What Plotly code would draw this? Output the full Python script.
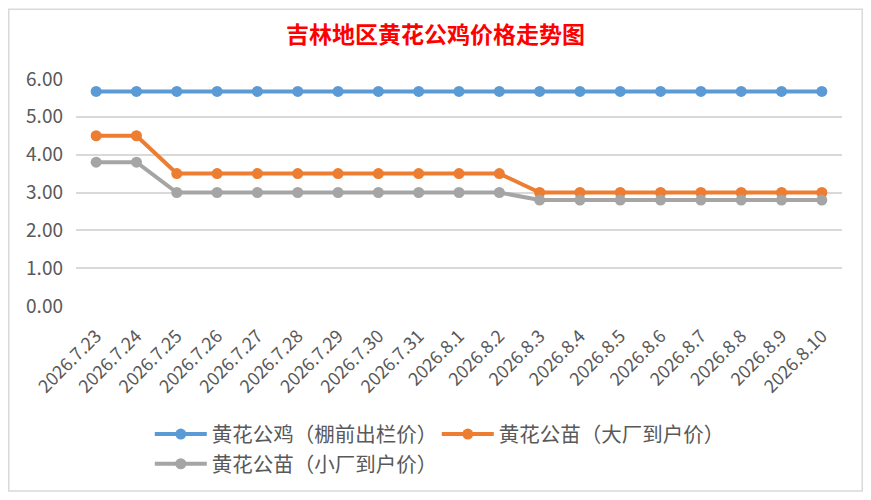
import plotly.graph_objects as go

# 数据
dates = ["2026.7.23", "2026.7.24", "2026.7.25", "2026.7.26", "2026.7.27", "2026.7.28",
         "2026.7.29", "2026.7.30", "2026.7.31", "2026.8.1", "2026.8.2", "2026.8.3",
         "2026.8.4", "2026.8.5", "2026.8.6", "2026.8.7", "2026.8.8", "2026.8.9", "2026.8.10"]
rooster_price = [5.67] * 19          # 黄花公鸡（棚前出栏价）
chick_big = [4.5, 4.5] + [3.5] * 9 + [3.0] * 8     # 黄花公苗（大厂到户价）
chick_small = [3.8, 3.8] + [3.0] * 9 + [2.8] * 8   # 黄花公苗（小厂到户价）
y_ticks = [0, 1, 2, 3, 4, 5, 6]

FONT = "Noto Sans CJK SC"
GRAY_TXT = "#595959"

# 页面 body 默认有 8px 边距，图的尺寸相应缩小
W, H = 855, 484
L, R, T, B = 68, 21, 70.7, 186
PW, PH = W - L - R, H - T - B

series = [
    ("黄花公鸡（棚前出栏价）", rooster_price, "#5B9BD5"),
    ("黄花公苗（大厂到户价）", chick_big, "#ED7D31"),
    ("黄花公苗（小厂到户价）", chick_small, "#A5A5A5"),
]

fig = go.Figure()
for name, vals, color in series:
    fig.add_trace(go.Scatter(
        x=dates, y=vals, name=name, mode="lines+markers",
        line=dict(color=color, width=4),
        marker=dict(color=color, size=11),
    ))

fig.update_layout(
    width=W, height=H,
    margin=dict(l=L, r=R, t=T, b=B, autoexpand=False),
    paper_bgcolor="white", plot_bgcolor="white",
    font=dict(family=FONT, size=19, color=GRAY_TXT),
    title=dict(
        text="<b>吉林地区黄花公鸡价格走势图</b>",
        x=0.5, xanchor="center", y=0.944, yanchor="middle",
        font=dict(family=FONT, size=23, color="#FF0000"),
    ),
    showlegend=True,
    legend=dict(
        orientation="h", x=0.471, xanchor="center", y=-0.477, yanchor="top",
        itemwidth=52, entrywidth=220, entrywidthmode="pixels",
        font=dict(family=FONT, size=20.5, color=GRAY_TXT),
        tracegroupgap=0,
    ),
    # 图表外框
    shapes=[dict(
        type="rect", xref="paper", yref="paper",
        x0=(0.75 - L) / PW, x1=(W - 0.75 - L) / PW,
        y0=-(H - 0.75 - T - PH) / PH, y1=(T + PH - 0.75) / PH,
        line=dict(color="#D9D9D9", width=1.5), layer="below",
    )],
)

fig.update_xaxes(
    type="category", range=[-0.5, len(dates) - 0.5],
    tickangle=-45, showgrid=False, showline=False, zeroline=False,
    automargin=False, ticklabelstandoff=15,
    tickfont=dict(family=FONT, size=18, color=GRAY_TXT),
)
fig.update_yaxes(
    range=[0, 6], tickvals=y_ticks, tickformat=".2f",
    showgrid=True, gridcolor="#D9D9D9", gridwidth=1.5,
    zeroline=False, showline=False, ticklabelstandoff=12, automargin=False,
    tickfont=dict(family=FONT, size=19, color=GRAY_TXT),
)

fig.write_html("out.html")
